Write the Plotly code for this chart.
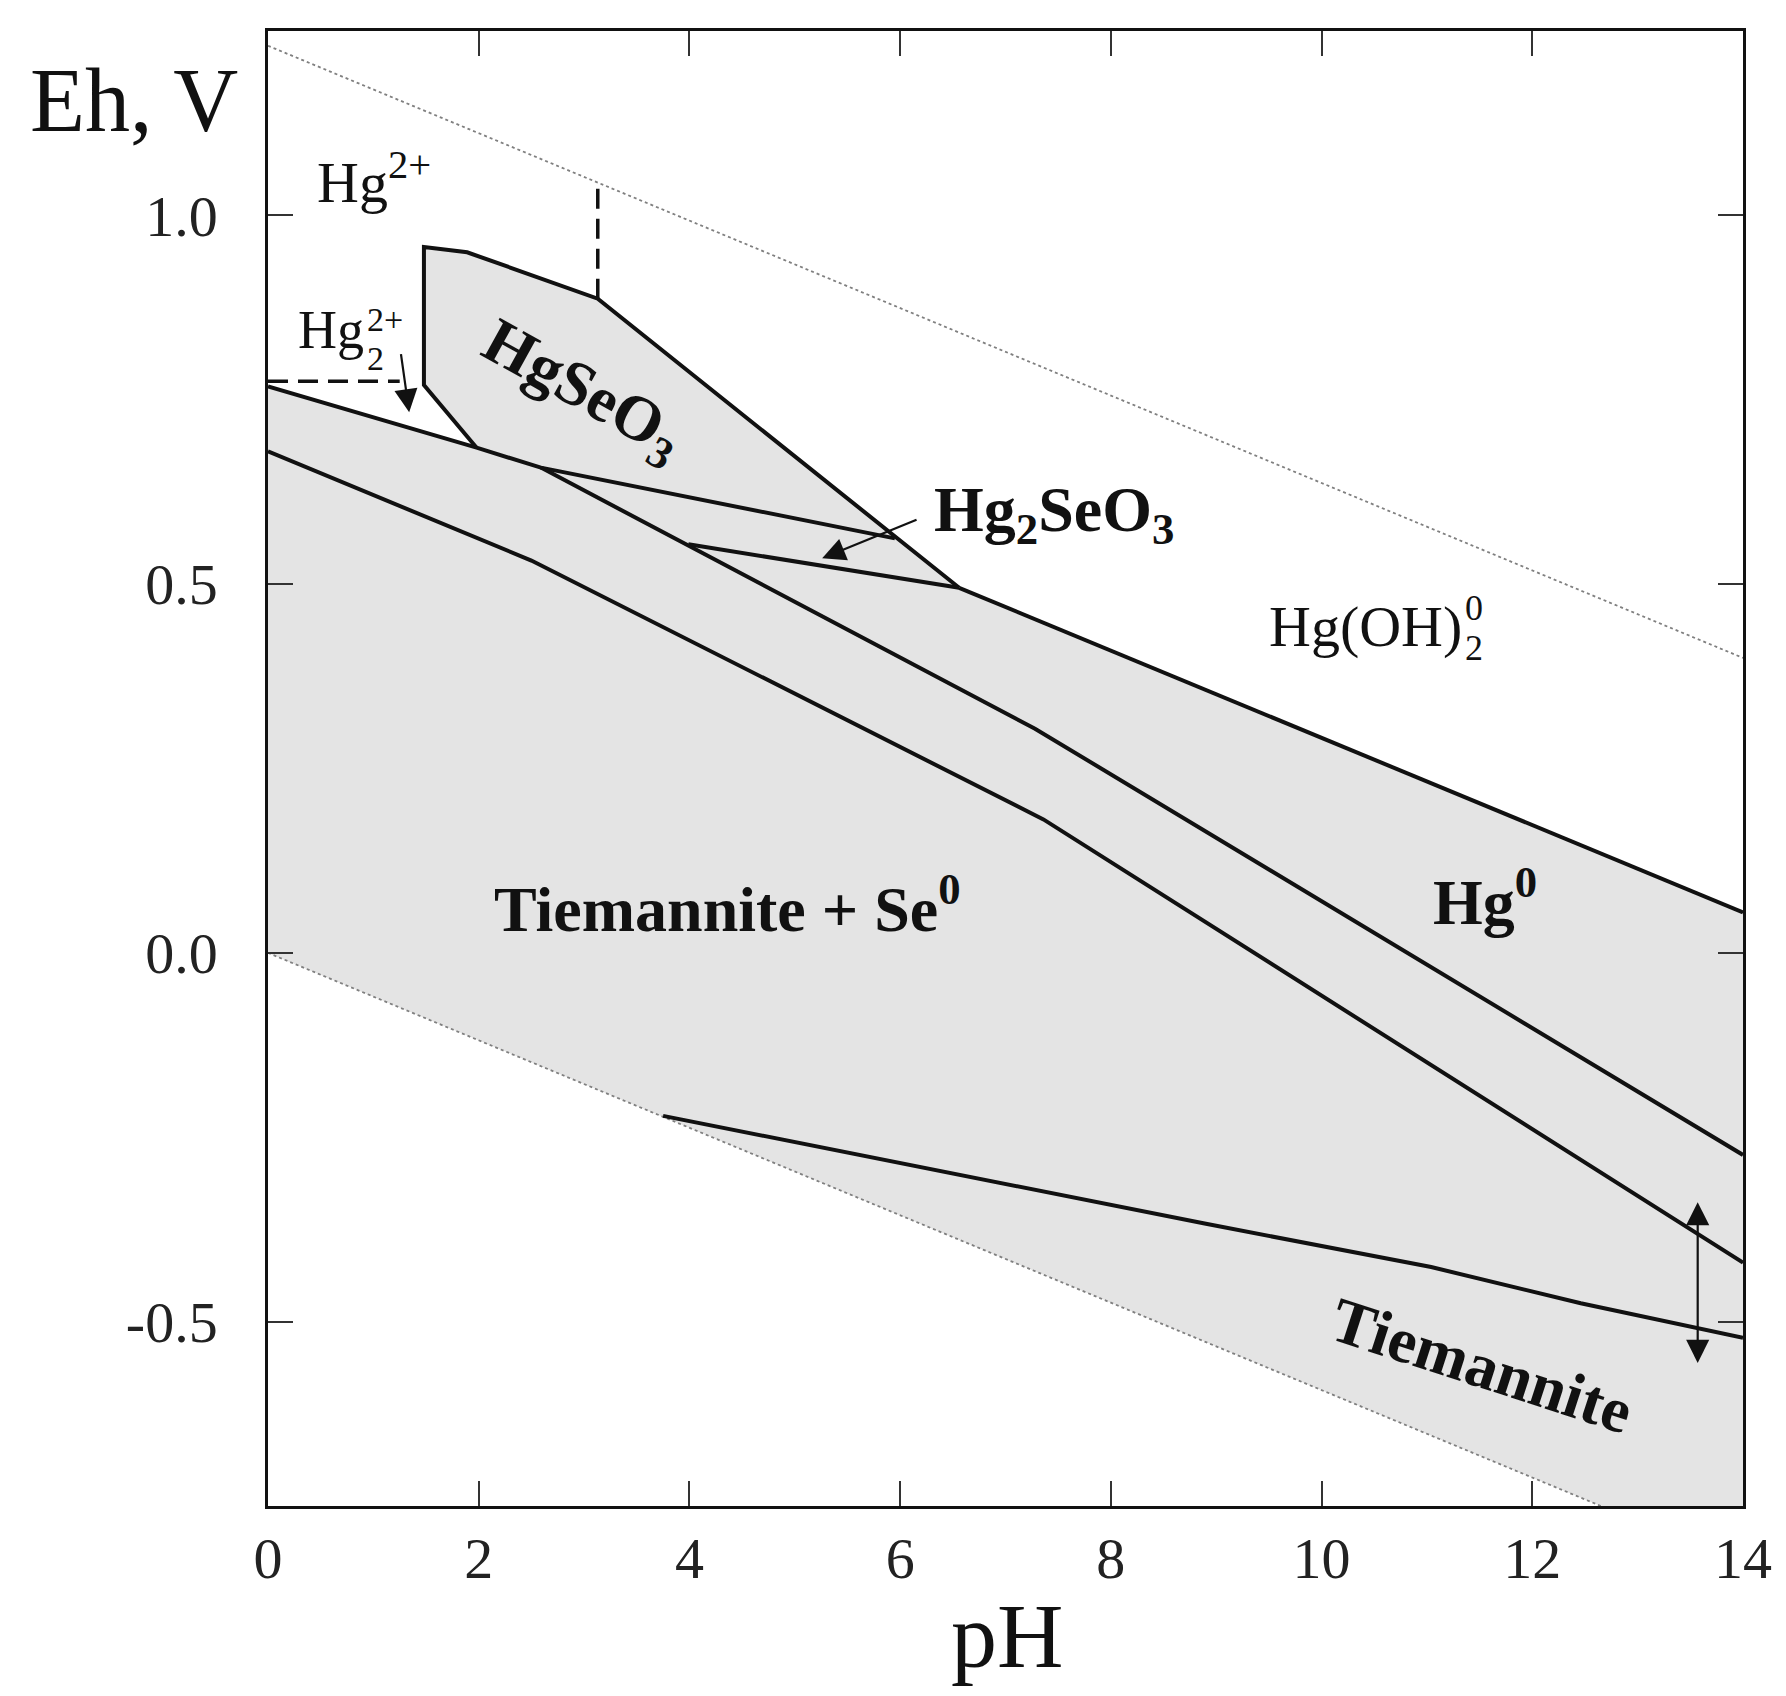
import plotly.graph_objects as go

# --- boundaries (pH, Eh in V) ---
ph_water = [0, 14]
eh_o2 = [1.23, 0.40]        # upper water stability line
eh_h2 = [0.0, -0.83]        # lower water stability line

ph_a = [0, 1.98, 2.59, 5.95]              # Hg2(2+) / solids, then HgSeO3 / Hg2SeO3
eh_a = [0.768, 0.685, 0.658, 0.562]

ph_hgseo3 = [1.98, 1.48, 1.48, 1.89, 3.13, 6.56]
eh_hgseo3 = [0.685, 0.770, 0.957, 0.950, 0.887, 0.495]

ph_hg0 = [6.56, 14]
eh_hg0 = [0.495, 0.055]

ph_mid = [2.59, 7.28, 14]
eh_mid = [0.658, 0.304, -0.274]

ph_sliver = [3.99, 6.56]
eh_sliver = [0.554, 0.495]

ph_low = [0, 2.50, 7.36, 14]
eh_low = [0.680, 0.532, 0.181, -0.420]

ph_tiem = [3.75, 6.04, 8.89, 11.04, 12.46, 14]
eh_tiem = [-0.221, -0.286, -0.367, -0.426, -0.475, -0.522]

ph_dash_v = [3.13, 3.13]
eh_dash_v = [0.887, 1.045]
ph_dash_h = [0, 1.25]
eh_dash_h = [0.775, 0.775]

x_ticks = [0, 2, 4, 6, 8, 10, 12, 14]
y_ticks = [-0.5, 0.0, 0.5, 1.0]
y_ticktext = ["-0.5", "0.0", "0.5", "1.0"]

SERIF = "Liberation Serif"
BLACK = "#111111"

fig = go.Figure()

# grey field of solid phases (clipped by the axes)
fill_x = ph_a[:2] + ph_hgseo3[1:] + ph_hg0[1:] + [ph_water[1], ph_water[0]]
fill_y = eh_a[:2] + eh_hgseo3[1:] + eh_hg0[1:] + [eh_h2[1], eh_h2[0]]
fig.add_trace(go.Scatter(x=fill_x, y=fill_y, fill="toself", fillcolor="#e4e4e4",
                         line=dict(width=0), mode="lines", hoverinfo="skip"))

# water lines
for eh in (eh_o2, eh_h2):
    fig.add_trace(go.Scatter(x=ph_water, y=eh, mode="lines",
                             line=dict(color="#808080", width=1.8, dash="dot")))

# solid boundaries
for xs, ys in [(ph_a, eh_a), (ph_hgseo3, eh_hgseo3), (ph_hg0, eh_hg0),
               (ph_mid, eh_mid), (ph_sliver, eh_sliver), (ph_low, eh_low),
               (ph_tiem, eh_tiem)]:
    fig.add_trace(go.Scatter(x=xs, y=ys, mode="lines",
                             line=dict(color=BLACK, width=4)))

# dashed boundaries of aqueous ions
for xs, ys in [(ph_dash_v, eh_dash_v), (ph_dash_h, eh_dash_h)]:
    fig.add_trace(go.Scatter(x=xs, y=ys, mode="lines",
                             line=dict(color=BLACK, width=3.5, dash="20px,10px")))


def label(x, y, text, size, bold=False, angle=0, anchor="center"):
    fig.add_annotation(x=x, y=y, text=f"<b>{text}</b>" if bold else text,
                       showarrow=False, textangle=angle,
                       xanchor=anchor, yanchor="middle",
                       font=dict(family=SERIF, size=size, color=BLACK))


# aqueous species (stacked sub/superscripts drawn as separate texts)
label(1.01, 1.05, "Hg<sup>2+</sup>", 58)
label(0.27, 0.845, "Hg", 54, anchor="left")
label(0.92, 0.806, "2", 34, anchor="left")
label(0.92, 0.859, "2+", 34, anchor="left")
label(10.42, 0.443, "Hg(OH)", 58)
label(11.34, 0.467, "0", 36, anchor="left")
label(11.34, 0.414, "2", 36, anchor="left")

# solid phases
label(2.98, 0.76, "HgSeO<sub>3</sub>", 64, bold=True, angle=29)
label(7.46, 0.595, "Hg<sub>2</sub>SeO<sub>3</sub>", 64, bold=True)
label(11.55, 0.075, "Hg<sup>0</sup>", 64, bold=True)
label(4.36, 0.065, "Tiemannite + Se<sup>0</sup>", 64, bold=True)
label(11.52, -0.56, "Tiemannite", 64, bold=True, angle=18)

# pointer arrows
arrows = [
    dict(x=1.34, y=0.733, ax=1.26, ay=0.814, side="end"),
    dict(x=5.26, y=0.535, ax=6.17, ay=0.588, side="end"),
    dict(x=13.57, y=-0.556, ax=13.57, ay=-0.336, side="end+start"),
]
for a in arrows:
    fig.add_annotation(x=a["x"], y=a["y"], ax=a["ax"], ay=a["ay"],
                       xref="x", yref="y", axref="x", ayref="y", text="",
                       showarrow=True, arrowhead=2, arrowsize=2.1, arrowwidth=2.2,
                       arrowcolor=BLACK, arrowside=a["side"])

# axis titles
fig.add_annotation(x=-0.091, y=0.953, xref="paper", yref="paper", text="Eh, V",
                   xanchor="center", yanchor="middle", showarrow=False,
                   font=dict(family=SERIF, size=90, color=BLACK))
fig.add_annotation(x=0.501, y=-0.088, xref="paper", yref="paper", text="pH",
                   xanchor="center", yanchor="middle", showarrow=False,
                   font=dict(family=SERIF, size=92, color=BLACK))

axis_common = dict(showgrid=False, zeroline=False, showline=True, linecolor=BLACK,
                   linewidth=2.5, mirror="ticks", ticks="inside", ticklen=25,
                   tickwidth=1.5, tickcolor="#333333",
                   tickfont=dict(family=SERIF, size=58, color="#222222"))
fig.update_xaxes(range=[0, 14], tickvals=x_ticks, ticklabelstandoff=0, **axis_common)
fig.update_yaxes(range=[-0.75, 1.25], tickvals=y_ticks, ticktext=y_ticktext,
                 ticklabelstandoff=36, **axis_common)

fig.update_layout(width=1786, height=1696, showlegend=False,
                  plot_bgcolor="white", paper_bgcolor="white",
                  margin=dict(l=260, r=51, t=23, b=198))

fig.write_html("out.html")
